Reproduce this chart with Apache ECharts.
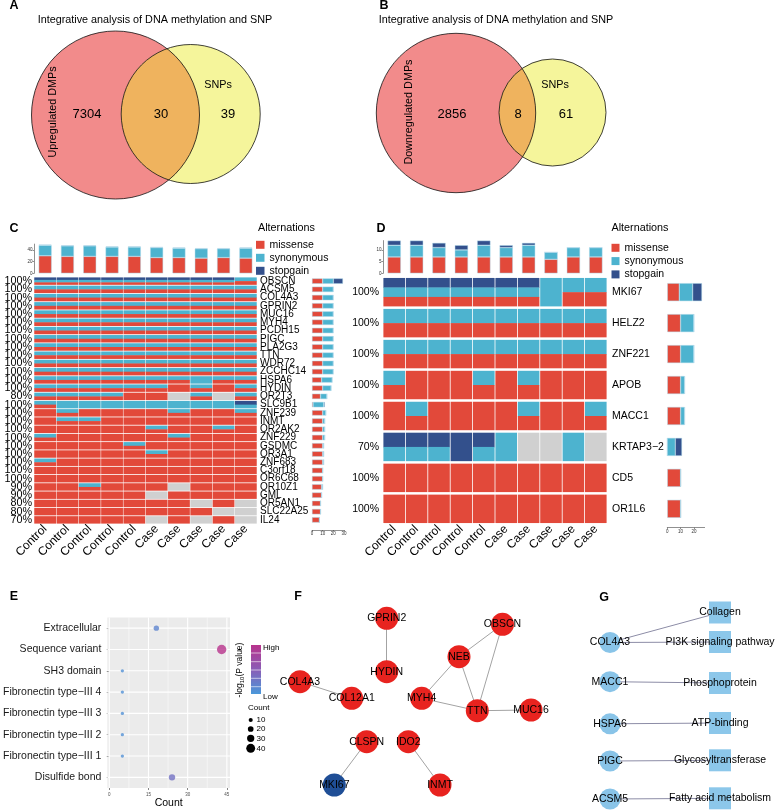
<!DOCTYPE html>
<html><head><meta charset="utf-8"><title>Integrative analysis</title>
<script src="https://cdn.jsdelivr.net/npm/echarts@6.0.0/dist/echarts.min.js"></script>
<style>html,body{margin:0;padding:0;background:#fff;}#chart{width:778px;height:810px;}</style>
</head><body><div id="chart"></div>
<script>
// ================= DATA =================
const vennATitle = 'Integrative analysis of DNA methylation and SNP';
const vennANames = ['Upregulated DMPs', 'SNPs'];
const vennACounts = [7304, 30, 39];
const vennBNames = ['Downregulated DMPs', 'SNPs'];
const vennBCounts = [2856, 8, 61];

const samples = ['Control','Control','Control','Control','Control','Case','Case','Case','Case','Case'];
const altTypes = ['missense', 'synonymous', 'stopgain'];

const genesC = ['OBSCN','ACSM5','COL4A3','GPRIN2','MUC16','MYH4','PCDH15','PIGC','PLA2G3','TTN','WDR72','ZCCHC14','HSPA6','HYDIN','OR2T3','SLC9B1','ZNF239','INMT','OR2AK2','ZNF229','GSDMC','OR3A1','ZNF683','C3orf18','OR6C68','OR10Z1','GML','OR5AN1','SLC22A25','IL24'];
const pctC = ['100%','100%','100%','100%','100%','100%','100%','100%','100%','100%','100%','100%','100%','100%','80%','100%','100%','100%','100%','100%','100%','100%','100%','100%','100%','90%','90%','80%','80%','70%'];
// codes per cell: M = missense, S = synonymous, X = stopgain, '' = none
const mutC = [
 ['XSM','XSM','XSM','XSM','XSM','XSM','XSM','XSM','XSM','SM'],
 ['SM','SM','SM','SM','SM','SM','SM','SM','SM','SM'],
 ['SM','SM','SM','SM','SM','SM','SM','SM','SM','SM'],
 ['SM','SM','SM','SM','SM','SM','SM','SM','SM','SM'],
 ['SM','SM','SM','SM','SM','SM','SM','SM','SM','SM'],
 ['SM','SM','SM','SM','SM','SM','SM','SM','SM','SM'],
 ['SM','SM','SM','SM','SM','SM','SM','SM','SM','SM'],
 ['SM','SM','SM','SM','SM','SM','SM','SM','SM','SM'],
 ['SM','SM','SM','SM','SM','SM','SM','SM','SM','SM'],
 ['SM','SM','SM','SM','SM','SM','SM','SM','SM','SM'],
 ['SM','SM','SM','SM','SM','SM','SM','SM','SM','SM'],
 ['SM','SM','SM','SM','SM','SM','SM','SM','SM','SM'],
 ['SM','SM','SM','SM','SM','SM','SM','S','SM','SM'],
 ['SM','SM','SM','SM','SM','SM','M','SM','M','SM'],
 ['SM','SM','SM','SM','M','M','','SM','','SM'],
 ['SM','S','S','S','S','S','S','S','S','XS'],
 ['M','SM','M','M','M','M','SM','M','M','SM'],
 ['M','SM','SM','M','M','M','M','M','M','M'],
 ['M','M','M','M','M','SM','M','M','SM','M'],
 ['SM','M','M','M','M','M','SM','M','M','M'],
 ['M','M','M','M','SM','M','M','M','M','M'],
 ['M','M','M','M','M','SM','M','M','M','M'],
 ['SM','M','M','M','M','M','M','M','M','M'],
 ['M','M','M','M','M','M','M','M','M','M'],
 ['M','M','M','M','M','M','M','M','M','M'],
 ['M','M','SM','M','M','M','','M','M','M'],
 ['M','M','M','M','M','','M','M','M','M'],
 ['M','M','M','M','M','M','M','','M',''],
 ['M','M','M','M','M','M','M','M','',''],
 ['M','M','M','M','M','','M','','M','']
];

const genesD = ['MKI67','HELZ2','ZNF221','APOB','MACC1','KRTAP3\u22122','CD5','OR1L6'];
const pctD = ['100%','100%','100%','100%','100%','70%','100%','100%'];
const mutD = [
 ['XSM','XSM','XSM','XSM','XSM','XSM','XSM','S','SM','SM'],
 ['SM','SM','SM','SM','SM','SM','SM','SM','SM','SM'],
 ['SM','SM','SM','SM','SM','SM','SM','SM','SM','SM'],
 ['SM','M','M','M','SM','M','SM','M','M','M'],
 ['M','SM','M','M','M','M','SM','M','M','SM'],
 ['XS','XS','XS','X','XS','S','','','S',''],
 ['M','M','M','M','M','M','M','M','M','M'],
 ['M','M','M','M','M','M','M','M','M','M']
];

const eCats = ['Extracellular','Sequence variant','SH3 domain','Fibronectin type\u2212III 4','Fibronectin type\u2212III 3','Fibronectin type\u2212III 2','Fibronectin type\u2212III 1','Disulfide bond'];
const eCount = [18, 43, 5, 5, 5, 5, 5, 24];
const eLogP = [1.8, 6.0, 1.3, 1.3, 1.3, 1.3, 1.3, 2.6];
const eXTicks = [0, 15, 30, 45];
const eSizeBreaks = [10, 20, 30, 40];

const fNodes = ['GPRIN2','OBSCN','NEB','HYDIN','COL4A3','COL12A1','MYH4','TTN','MUC16','CLSPN','IDO2','MKI67','INMT'];
const fEdges = [['GPRIN2','HYDIN'],['COL4A3','COL12A1'],['NEB','OBSCN'],['NEB','MYH4'],['NEB','TTN'],['OBSCN','TTN'],['MYH4','TTN'],['TTN','MUC16'],['CLSPN','MKI67'],['IDO2','INMT']];
const gGenes = ['COL4A3','MACC1','HSPA6','PIGC','ACSM5'];
const gTerms = ['Collagen','PI3K signaling pathway','Phosphoprotein','ATP-binding','Glycosyltransferase','Fatty acid metabolism'];
const gEdges = [['COL4A3','Collagen'],['COL4A3','PI3K signaling pathway'],['MACC1','Phosphoprotein'],['HSPA6','ATP-binding'],['PIGC','Glycosyltransferase'],['ACSM5','Fatty acid metabolism']];

// ================= LAYOUT / STYLE =================
const FONT = 'Liberation Sans, Arial, Helvetica, sans-serif';
const COL = {M:'#E2493A', S:'#4DB3CF', X:'#33508C', none:'#D0D0D0'};
const typeCode = {missense:'M', synonymous:'S', stopgain:'X'};
const vennLayout = {
  A: {c1:[115.5,115,84], c2:[190.7,114,69.5], lab1:[53,112], lab2:[218,85], nums:[[87,114],[161,114],[228,114]], title:[155,20]},
  B: {c1:[456,113,79.7], c2:[552.5,112.5,53.5], lab1:[409,112], lab2:[555,85], nums:[[452,114],[518,114],[566,114]], title:[496,20]}
};
const fLayout = {GPRIN2:[386.7,618.3], OBSCN:[502.5,624.3], NEB:[459,656.7], HYDIN:[386.7,671.7], COL4A3:[300,681.7], COL12A1:[351.7,698.3], MYH4:[421.7,698.3], TTN:[477.3,710.7], MUC16:[531,710], CLSPN:[366.7,741.7], IDO2:[408.3,741.7], MKI67:[334.3,785], INMT:[440,785]};
const gLayoutGenes = [642.5, 681.7, 723.8, 761, 799];
const gLayoutTerms = [612.5, 642, 683, 723, 760.3, 798.3];

// ================= HELPERS =================
function sampleCounts(mut, code){ return samples.map((_,j)=>mut.reduce((s,row)=>s+(row[j].indexOf(code)>=0?1:0),0)); }
function geneCounts(mut, code){ return mut.map(row=>row.filter(c=>c.indexOf(code)>=0).length); }
function oncoSeries(mut, gx, gy, xi, yi){
  const cells = [], codes = [];
  mut.forEach((row,i)=>row.forEach((c,j)=>{cells.push([j,i]); codes.push(c);}));
  return {
    type:'custom', xAxisIndex:xi, yAxisIndex:yi, data:cells, silent:true, clip:false,
    renderItem(params, api){
      const code = codes[params.dataIndex];
      const p = api.coord([api.value(0), api.value(1)]);
      const cw = api.size([1,0])[0], ch = api.size([0,1])[1];
      const x = p[0]-cw/2+gx/2, y = p[1]-ch/2+gy/2, w = cw-gx, h = ch-gy;
      if(!code) return {type:'rect', shape:{x:x,y:y,width:w,height:h}, style:{fill:COL.none}};
      const types = ['X','S','M'].filter(t=>code.indexOf(t)>=0);
      const sh = h/types.length;
      return {type:'group', children: types.map((t,k)=>({type:'rect', shape:{x:x, y:y+k*sh, width:w, height:sh+(k<types.length-1?0.4:0)}, style:{fill:COL[t]}}))};
    }
  };
}
function lensPoints(c1, c2){
  const [x1,y1,r1]=c1, [x2,y2,r2]=c2;
  const dx=x2-x1, dy=y2-y1, d=Math.hypot(dx,dy);
  const a=(d*d+r1*r1-r2*r2)/(2*d), h=Math.sqrt(r1*r1-a*a);
  const ux=dx/d, uy=dy/d, mx=x1+a*ux, my=y1+a*uy;
  const p1=[mx+h*uy, my-h*ux], p2=[mx-h*uy, my+h*ux];
  const pts = [];
  const arc = (cx, cy, r, pa, pb, n) => {
    let a0 = Math.atan2(pa[1]-cy, pa[0]-cx), a1 = Math.atan2(pb[1]-cy, pb[0]-cx);
    let diff = a1 - a0;
    while(diff > Math.PI) diff -= 2*Math.PI;
    while(diff < -Math.PI) diff += 2*Math.PI;
    for(let i=0;i<=n;i++){ const t = a0 + diff*i/n; pts.push([cx + r*Math.cos(t), cy + r*Math.sin(t)]); }
  };
  arc(x2, y2, r2, p1, p2, 60);
  arc(x1, y1, r1, p2, p1, 60);
  return pts;
}
function txt(text, x, y, size, opts){
  opts = opts || {};
  return {type:'text', x:x, y:y, rotation:opts.rotation||0, z:opts.z||10, silent:true,
    style:{text:text, x:0, y:0, fontSize:size, fontFamily:FONT, fontWeight:opts.weight||'normal', fill:opts.color||'#000', align:opts.align||'center', verticalAlign:'middle', rich:opts.rich}};
}
function venn(L, names, counts, title){
  const els = [];
  els.push({type:'circle', shape:{cx:L.c1[0], cy:L.c1[1], r:L.c1[2]}, style:{fill:'#F28B8B'}, silent:true});
  els.push({type:'circle', shape:{cx:L.c2[0], cy:L.c2[1], r:L.c2[2]}, style:{fill:'#F5F59B'}, silent:true});
  els.push({type:'polygon', shape:{points:lensPoints(L.c1, L.c2)}, style:{fill:'#EFB35E'}, silent:true});
  els.push({type:'circle', shape:{cx:L.c1[0], cy:L.c1[1], r:L.c1[2]}, style:{fill:null, stroke:'#111', lineWidth:0.8}, silent:true});
  els.push({type:'circle', shape:{cx:L.c2[0], cy:L.c2[1], r:L.c2[2]}, style:{fill:null, stroke:'#111', lineWidth:0.8}, silent:true});
  els.push(txt(names[0], L.lab1[0], L.lab1[1], 10.8, {rotation:Math.PI/2}));
  els.push(txt(names[1], L.lab2[0], L.lab2[1], 10.8));
  counts.forEach((c,i)=>els.push(txt(String(c), L.nums[i][0], L.nums[i][1], 13)));
  els.push(txt(title, L.title[0], L.title[1], 10.8));
  return els;
}

// ================= OPTION =================
const smallAxisLine = {show:true, lineStyle:{color:'#444', width:0.6}};
const smallTick = {show:true, length:1.5, lineStyle:{color:'#444', width:0.6}};
const smallLabel = {fontSize:4.5, color:'#333', margin:1.5, fontFamily:FONT};
const barBorder = {borderColor:'rgba(170,215,232,0.9)', borderWidth:0.5};

const series = [];
altTypes.forEach(t=>series.push({name:t, type:'bar', stack:'ct', xAxisIndex:0, yAxisIndex:0, barWidth:'58%', data:sampleCounts(mutC, typeCode[t]), itemStyle:Object.assign({color:COL[typeCode[t]]}, barBorder), silent:true}));
series.push(oncoSeries(mutC, 0.5, 0.8, 1, 1));
altTypes.forEach(t=>series.push({name:t, type:'bar', stack:'cr', xAxisIndex:2, yAxisIndex:3, barWidth:'65%', data:geneCounts(mutC, typeCode[t]), itemStyle:Object.assign({color:COL[typeCode[t]]}, barBorder), silent:true}));
altTypes.forEach(t=>series.push({name:t, type:'bar', stack:'dt', xAxisIndex:3, yAxisIndex:4, barWidth:'59%', data:sampleCounts(mutD, typeCode[t]), itemStyle:Object.assign({color:COL[typeCode[t]]}, barBorder), silent:true}));
series.push(oncoSeries(mutD, 0.8, 2.5, 4, 5));
altTypes.forEach(t=>series.push({name:t, type:'bar', stack:'dr', xAxisIndex:5, yAxisIndex:7, barWidth:'58%', data:geneCounts(mutD, typeCode[t]), itemStyle:Object.assign({color:COL[typeCode[t]]}, barBorder), silent:true}));
const eGridData = [];
eXTicks.forEach(v=>eGridData.push([v,0,0]));
for(let i=0;i<eXTicks.length-1;i++) eGridData.push([(eXTicks[i]+eXTicks[i+1])/2,0,1]);
eCats.forEach((c,i)=>eGridData.push([0,i,2]));
series.push({type:'custom', xAxisIndex:6, yAxisIndex:8, data:eGridData, silent:true, z:1,
  renderItem(params, api){
    const cs = params.coordSys, k = api.value(2);
    if(k<2){ const x = api.coord([api.value(0),0])[0]; return {type:'line', shape:{x1:x,y1:cs.y,x2:x,y2:cs.y+cs.height}, style:{stroke:'#fff', lineWidth:k===0?1.1:0.5}}; }
    const y = api.coord([0, api.value(1)])[1];
    return {type:'line', shape:{x1:cs.x,y1:y,x2:cs.x+cs.width,y2:y}, style:{stroke:'#fff', lineWidth:1.1}};
  }});
const eSize = v => 2.5 + 0.16*v;
series.push({type:'scatter', xAxisIndex:6, yAxisIndex:8, z:3, silent:true,
  data:eCats.map((c,i)=>[eCount[i], i, eLogP[i]]), symbolSize:v=>eSize(v[0])});
series.push({type:'graph', coordinateSystem:'cartesian2d', xAxisIndex:7, yAxisIndex:9, symbol:'circle', symbolSize:23, silent:true, z:3,
  data:fNodes.map(n=>({name:n, value:fLayout[n], itemStyle:{color:n==='MKI67'?'#1F4E96':'#E8231F'}})),
  links:fEdges.map(e=>({source:e[0], target:e[1]})),
  lineStyle:{color:'#A3A3A3', width:1, opacity:1, curveness:0},
  label:{show:true, position:'inside', fontSize:10.5, color:'#000', fontFamily:FONT}});
const gData = gGenes.map((n,i)=>({name:n, value:[610, gLayoutGenes[i]], symbol:'circle', symbolSize:21, itemStyle:{color:'#89C4E8'}}))
  .concat(gTerms.map((n,i)=>({name:n, value:[720, gLayoutTerms[i]], symbol:'rect', symbolSize:[22,22], itemStyle:{color:'#8CC7EA'}})));
series.push({type:'graph', coordinateSystem:'cartesian2d', xAxisIndex:7, yAxisIndex:9, silent:true, z:3,
  data:gData, links:gEdges.map(e=>({source:e[0], target:e[1]})),
  lineStyle:{color:'#8C8CA6', width:1, opacity:1},
  label:{show:true, position:'inside', fontSize:10.5, color:'#000', fontFamily:FONT}});

const catHidden = (gi, data) => ({gridIndex:gi, type:'category', data:data, show:false});
const option = {
  animation:false,
  textStyle:{fontFamily:FONT},
  grid:[
    {left:34, top:244.1, width:223, height:29.2},
    {left:34, top:277, width:223, height:247},
    {left:312, top:277, width:32, height:247},
    {left:383, top:240.6, width:224, height:32.7},
    {left:383, top:276.7, width:224, height:247.6},
    {left:667.3, top:276.7, width:37.3, height:247.6},
    {left:104, top:617.5, width:126, height:170.5, show:true, backgroundColor:'#EBEBEB', borderWidth:0},
    {left:0, top:0, width:778, height:810}
  ],
  xAxis:[
    catHidden(0, samples),
    {gridIndex:1, type:'category', data:samples, axisLine:{show:false}, axisTick:{show:false}, axisLabel:{rotate:45, interval:0, fontSize:12, margin:3, color:'#000'}},
    {gridIndex:2, type:'value', min:0, max:30, interval:10, offset:6, axisLine:smallAxisLine, axisTick:smallTick, axisLabel:smallLabel, splitLine:{show:false}},
    catHidden(3, samples),
    {gridIndex:4, type:'category', data:samples, axisLine:{show:false}, axisTick:{show:false}, axisLabel:{rotate:45, interval:0, fontSize:12, margin:3, color:'#000'}},
    {gridIndex:5, type:'value', min:0, max:28, offset:3.4, axisLine:smallAxisLine, axisTick:Object.assign({customValues:[0,10,20]}, smallTick), axisLabel:Object.assign({customValues:[0,10,20]}, smallLabel), splitLine:{show:false}},
    {gridIndex:6, type:'value', min:-0.75, max:46.2, axisLine:{show:false}, axisTick:{show:true, length:2, customValues:eXTicks, lineStyle:{color:'#333', width:0.6}}, axisLabel:{customValues:eXTicks, fontSize:4.5, color:'#4D4D4D', margin:4}, splitLine:{show:false},
      name:'Count', nameLocation:'middle', nameGap:10, nameTextStyle:{fontSize:10.5, color:'#000', fontFamily:FONT}},
    {gridIndex:7, type:'value', min:0, max:778, show:false}
  ],
  yAxis:[
    {gridIndex:0, type:'value', min:0, max:50, axisLine:smallAxisLine, axisTick:Object.assign({customValues:[0,20,40]}, smallTick), axisLabel:Object.assign({customValues:[0,20,40]}, smallLabel), splitLine:{show:false}},
    {gridIndex:1, type:'category', data:pctC, inverse:true, position:'left', axisLine:{show:false}, axisTick:{show:false}, axisLabel:{interval:0, fontSize:10.8, margin:2, color:'#000'}},
    {gridIndex:1, type:'category', data:genesC, inverse:true, position:'right', axisLine:{show:false}, axisTick:{show:false}, axisLabel:{interval:0, fontSize:10, margin:3, color:'#000'}},
    {gridIndex:2, type:'category', data:genesC, inverse:true, show:false},
    {gridIndex:3, type:'value', min:0, max:14, axisLine:smallAxisLine, axisTick:Object.assign({customValues:[0,5,10]}, smallTick), axisLabel:Object.assign({customValues:[0,5,10]}, smallLabel), splitLine:{show:false}},
    {gridIndex:4, type:'category', data:pctD, inverse:true, position:'left', axisLine:{show:false}, axisTick:{show:false}, axisLabel:{interval:0, fontSize:10.5, margin:4, color:'#000'}},
    {gridIndex:4, type:'category', data:genesD, inverse:true, position:'right', axisLine:{show:false}, axisTick:{show:false}, axisLabel:{interval:0, fontSize:10.5, margin:5, color:'#000'}},
    {gridIndex:5, type:'category', data:genesD, inverse:true, show:false},
    {gridIndex:6, type:'category', data:eCats, inverse:true, axisLine:{show:false}, axisTick:{show:true, alignWithLabel:true, length:2.5, lineStyle:{color:'#333', width:0.6}}, axisLabel:{interval:0, fontSize:10.5, color:'#1a1a1a', margin:6}, splitLine:{show:false}},
    {gridIndex:7, type:'value', min:0, max:810, inverse:true, show:false}
  ],
  legend:[
    {left:256, top:239.3, orient:'vertical', itemWidth:8.5, itemHeight:8, itemGap:2, padding:0, icon:'rect', selectedMode:false, data:altTypes, itemStyle:{borderWidth:0}, textStyle:{fontSize:10.5, color:'#000', fontFamily:FONT}},
    {left:611.5, top:242.3, orient:'vertical', itemWidth:8, itemHeight:8, itemGap:2.3, padding:0, icon:'rect', selectedMode:false, data:altTypes, itemStyle:{borderWidth:0}, textStyle:{fontSize:10.5, color:'#000', fontFamily:FONT}}
  ],
  visualMap:{show:false, type:'continuous', seriesIndex:15, dimension:2, min:1, max:6, inRange:{color:['#4A98DA','#8A5DB6','#B8338C']}},
  series:series,
  graphic:{elements:[]}
};

const G = [];
G.push(txt('A', 14, 6, 12.5, {weight:'bold'}));
G.push(txt('B', 384, 6, 12.5, {weight:'bold'}));
G.push(txt('C', 14, 229, 12.5, {weight:'bold'}));
G.push(txt('D', 381, 229, 12.5, {weight:'bold'}));
G.push(txt('E', 14, 597, 12.5, {weight:'bold'}));
G.push(txt('F', 298, 597, 12.5, {weight:'bold'}));
G.push(txt('G', 604, 598, 12.5, {weight:'bold'}));
venn(vennLayout.A, vennANames, vennACounts, vennATitle).forEach(e=>G.push(e));
venn(vennLayout.B, vennBNames, vennBCounts, vennATitle).forEach(e=>G.push(e));
G.push(txt('Alternations', 258, 228, 10.8, {align:'left'}));
G.push(txt('Alternations', 611.5, 228, 10.8, {align:'left'}));
G.push({type:'rect', shape:{x:251, y:645, width:10, height:49}, silent:true, z:10,
  style:{fill:{type:'linear', x:0, y:0, x2:0, y2:1, colorStops:[{offset:0,color:'#B8338C'},{offset:0.5,color:'#8A5DB6'},{offset:1,color:'#4A98DA'}]}}});
[653, 661.7, 670, 678.3, 686.7].forEach(y=>G.push({type:'line', shape:{x1:251, y1:y, x2:261, y2:y}, silent:true, z:11, style:{stroke:'rgba(255,255,255,0.85)', lineWidth:0.7}}));
G.push(txt('High', 263, 648, 8, {align:'left'}));
G.push(txt('Low', 263, 697, 8, {align:'left'}));
G.push(txt('-log{s|10}(P value)', 240, 670, 8.5, {rotation:Math.PI/2, rich:{s:{fontSize:6, fontFamily:FONT, padding:[4,0,0,0]}}}));
G.push(txt('Count', 248, 708, 8, {align:'left'}));
const sizeLegendY = [720, 729, 738.3, 748.3];
eSizeBreaks.forEach((b,i)=>{
  G.push({type:'circle', shape:{cx:250.7, cy:sizeLegendY[i], r:eSize(b)/2}, style:{fill:'#000'}, silent:true, z:10});
  G.push(txt(String(b), 256.5, sizeLegendY[i], 8, {align:'left'}));
});
option.graphic.elements = G;

const chart = echarts.init(document.getElementById('chart'), null, {renderer:'canvas'});
chart.setOption(option);
</script></body></html>
